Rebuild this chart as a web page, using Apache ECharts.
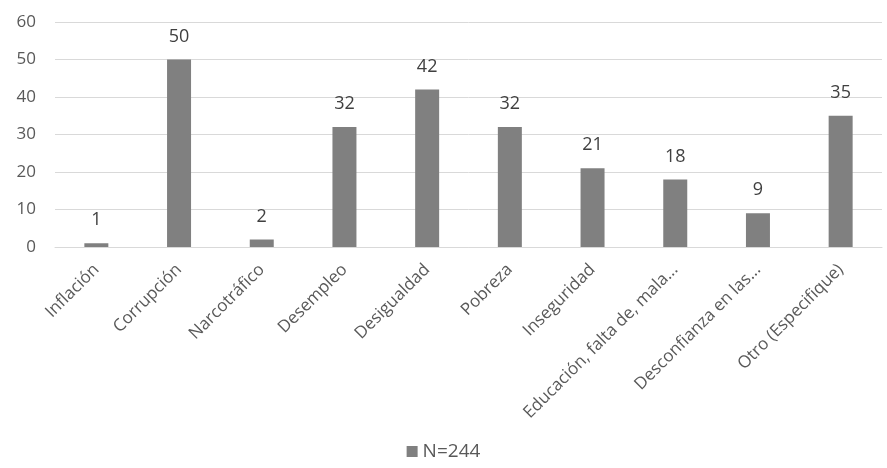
<!DOCTYPE html>
<html>
<head>
<meta charset="utf-8">
<script src="https://cdn.jsdelivr.net/npm/echarts@6/dist/echarts.min.js"></script>
<style>
html, body { margin: 0; padding: 0; background: #ffffff; }
#chart { width: 887px; height: 468px; }
</style>
</head>
<body>
<div id="chart"></div>
<script>
var categories = ['Inflación', 'Corrupción', 'Narcotráfico', 'Desempleo', 'Desigualdad',
                  'Pobreza', 'Inseguridad', 'Educación, falta de, mala...', 'Desconfianza en las...', 'Otro (Especifique)'];
var values = [1, 50, 2, 32, 42, 32, 21, 18, 9, 35];
var seriesName = 'N=244';

var chart = echarts.init(document.getElementById('chart'));

var option = {
    backgroundColor: '#ffffff',
    textStyle: { fontFamily: 'Open Sans' },
    grid: { left: 55, right: 5, top: 22, bottom: 221 },
    legend: {
        data: [seriesName],
        bottom: 2,
        left: 'center',
        icon: 'rect',
        itemWidth: 11,
        itemHeight: 11,
        itemGap: 4,
        textStyle: { fontSize: 19, color: '#595959', fontFamily: 'Open Sans' }
    },
    xAxis: {
        type: 'category',
        data: categories,
        axisLine: { lineStyle: { color: '#d9d9d9', width: 1 } },
        axisTick: { show: false },
        axisLabel: {
            rotate: 45,
            interval: 0,
            margin: 20,
            fontSize: 17,
            color: '#595959'
        }
    },
    yAxis: {
        type: 'value',
        min: 0,
        max: 60,
        interval: 10,
        axisLine: { show: false },
        axisTick: { show: false },
        axisLabel: { fontSize: 17, color: '#595959', margin: 19 },
        splitLine: { lineStyle: { color: '#d9d9d9', width: 1 } }
    },
    series: [{
        name: seriesName,
        type: 'bar',
        data: values,
        barWidth: 24,
        itemStyle: { color: '#808080' },
        label: {
            show: true,
            position: 'top',
            distance: 14,
            fontSize: 18,
            color: '#404040'
        }
    }]
};
chart.setOption(option);
</script>
</body>
</html>
